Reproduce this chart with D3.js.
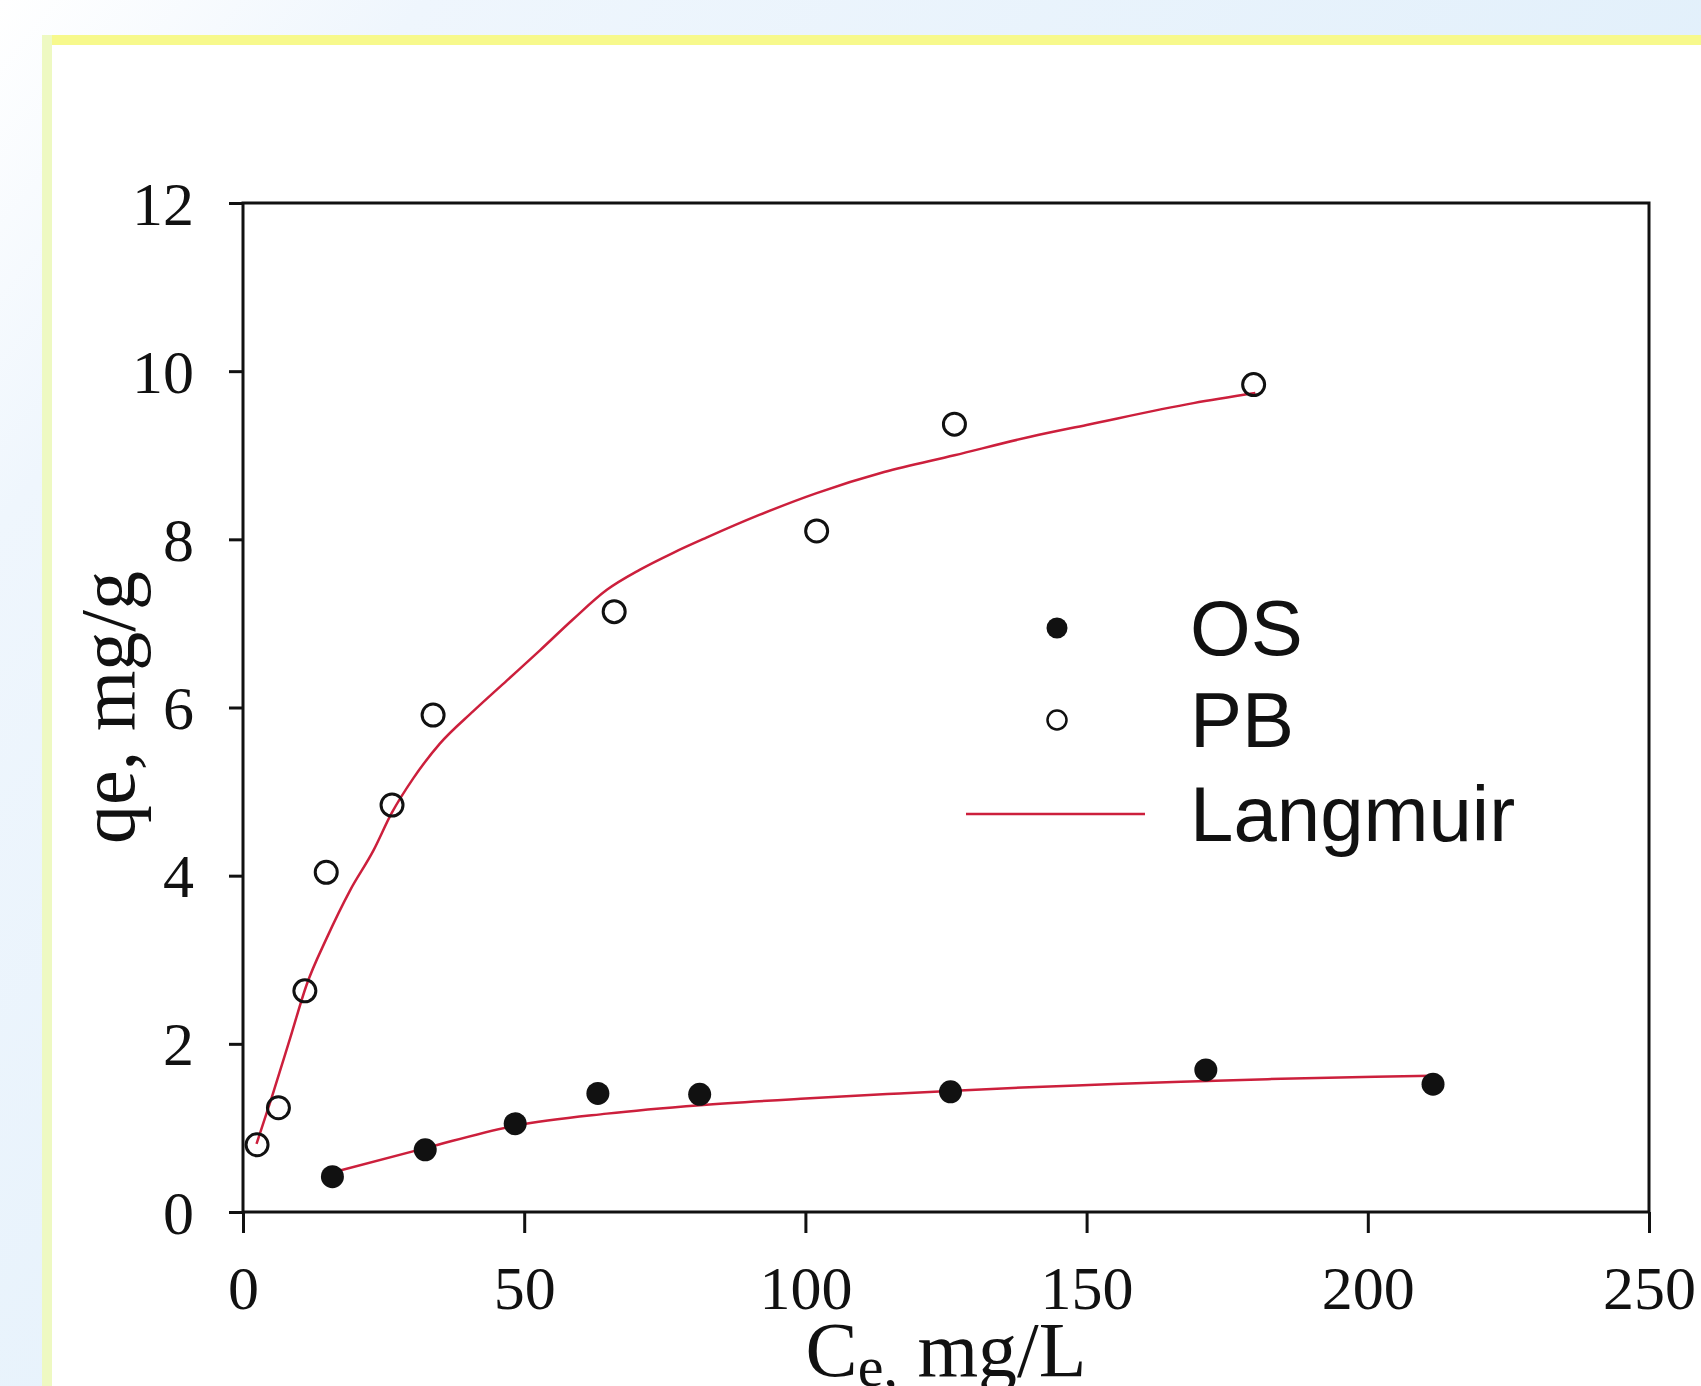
<!DOCTYPE html>
<html lang="en">
<head>
<meta charset="UTF-8">
<title>Langmuir isotherm - OS / PB</title>
<script src="https://d3js.org/d3.v7.min.js"></script>
<style>
  body { margin: 0; background: #fff; }
  svg { display: block; }
  .tick text { font-family: "Liberation Serif", "Times New Roman", serif; font-size: 62px; fill: #111; }
  .axis-title { font-family: "Liberation Serif", "Times New Roman", serif; font-size: 78px; fill: #111; }
  .legend text { font-family: "Liberation Sans", Arial, sans-serif; font-size: 78px; fill: #111; }
</style>
</head>
<body>
<svg id="chart" width="1701" height="1386"></svg>
<script>
// axis ticks
const xTicks = [0, 50, 100, 150, 200, 250];
const yTicks = [0, 2, 4, 6, 8, 10, 12];

// OS (filled circles)
const osC = [15.9, 32.4, 48.4, 63.1, 81.2, 125.8, 171.2, 211.6];
const osQ = [0.42, 0.74, 1.05, 1.41, 1.40, 1.43, 1.69, 1.52];

// PB (open circles)
const pbC = [2.5, 6.3, 11.0, 14.8, 26.5, 33.8, 66.0, 102.0, 126.5, 179.7];
const pbQ = [0.80, 1.24, 2.63, 4.04, 4.84, 5.91, 7.14, 8.10, 9.37, 9.84];

// Langmuir fitted lines
const pbFitC = [2.4, 5.1, 8.4, 11.3, 14.9, 19.0, 23.2, 26.4, 30.3, 35.0, 41.0, 46.9, 52.8, 58.7, 64.7, 70.6, 76.5, 82.4, 91.8, 102, 114, 126.5, 140, 150, 169, 180];
const pbFitQ = [0.81, 1.36, 2.07, 2.70, 3.26, 3.82, 4.30, 4.74, 5.16, 5.57, 5.96, 6.32, 6.68, 7.05, 7.40, 7.64, 7.84, 8.02, 8.29, 8.55, 8.80, 9.00, 9.22, 9.36, 9.62, 9.74];
const osFitC = [15.9, 32.4, 48.6, 64.7, 81.3, 100, 116.8, 125.6, 138.6, 150.4, 166.8, 182.2, 201.3, 211.3];
const osFitQ = [0.47, 0.76, 1.03, 1.17, 1.27, 1.35, 1.41, 1.44, 1.48, 1.51, 1.55, 1.58, 1.61, 1.62];

const legendNames = ["OS", "PB", "Langmuir"];

const W = 1701, H = 1386;
const svg = d3.select("#chart");

// slide background + yellow frame
const defs = svg.append("defs");
const bg = defs.append("linearGradient").attr("id", "bg")
  .attr("gradientUnits", "userSpaceOnUse")
  .attr("x1", 0).attr("y1", 0).attr("x2", W).attr("y2", H);
bg.append("stop").attr("offset", 0).attr("stop-color", "#ffffff");
bg.append("stop").attr("offset", 0.15).attr("stop-color", "#eff6fd");
bg.append("stop").attr("offset", 1).attr("stop-color", "#d8ebf9");
svg.append("rect").attr("width", W).attr("height", H).attr("fill", "url(#bg)");
svg.append("rect").attr("x", 47).attr("y", 40).attr("width", W).attr("height", H).attr("fill", "#fff");
svg.append("line").attr("x1", 42).attr("x2", W).attr("y1", 40).attr("y2", 40)
  .attr("stroke", "#f7f98c").attr("stroke-width", 10);
svg.append("line").attr("x1", 47).attr("x2", 47).attr("y1", 35).attr("y2", H)
  .attr("stroke", "#eef9c2").attr("stroke-width", 10);

// plot area
const pLeft = 243, pRight = 1649, pTop = 203, pBottom = 1212;
const x = d3.scaleLinear().domain([0, 250]).range([pLeft, pRight]);
const y = d3.scaleLinear().domain([0, 12]).range([pBottom, pTop]);

// frame
svg.append("rect").attr("x", pLeft).attr("y", pTop)
  .attr("width", pRight - pLeft).attr("height", pBottom - pTop)
  .attr("fill", "none").attr("stroke", "#111").attr("stroke-width", 3);

const xAxis = svg.append("g").attr("transform", `translate(0,${pBottom})`)
  .call(d3.axisBottom(x).tickValues(xTicks).tickSize(21).tickSizeOuter(0));
xAxis.selectAll("text").attr("y", 97).attr("dy", 0);

const yAxis = svg.append("g").attr("transform", `translate(${pLeft},0)`)
  .call(d3.axisLeft(y).tickValues(yTicks).tickSize(14).tickSizeOuter(0));
yAxis.selectAll("text").attr("x", -49).attr("dy", "0.34em");

svg.selectAll(".domain").attr("stroke", "none");
svg.selectAll(".tick line").attr("stroke", "#111").attr("stroke-width", 3);

// axis titles
const xt = svg.append("text").attr("class", "axis-title")
  .attr("x", (pLeft + pRight) / 2).attr("y", 1376).attr("text-anchor", "middle");
xt.append("tspan").text("C");
xt.append("tspan").attr("dy", 10).attr("font-size", 58).text("e,");
xt.append("tspan").attr("dy", -10).text(" mg/L");

svg.append("text").attr("class", "axis-title")
  .attr("transform", `translate(134,${(pTop + pBottom) / 2}) rotate(-90)`)
  .attr("text-anchor", "middle")
  .text("qe, mg/g");

// fitted lines
const line = d3.line().curve(d3.curveMonotoneX).x(d => x(d[0])).y(d => y(d[1]));
const fits = [d3.zip(pbFitC, pbFitQ), d3.zip(osFitC, osFitQ)];
svg.selectAll(".fit").data(fits).enter().append("path")
  .attr("class", "fit")
  .attr("d", line)
  .attr("fill", "none")
  .attr("stroke", "#cc1f3c")
  .attr("stroke-width", 2.5);

// points
svg.selectAll(".os").data(d3.zip(osC, osQ)).enter().append("circle")
  .attr("class", "os")
  .attr("cx", d => x(d[0])).attr("cy", d => y(d[1])).attr("r", 11.5)
  .attr("fill", "#111");

svg.selectAll(".pb").data(d3.zip(pbC, pbQ)).enter().append("circle")
  .attr("class", "pb")
  .attr("cx", d => x(d[0])).attr("cy", d => y(d[1])).attr("r", 11)
  .attr("fill", "none").attr("stroke", "#111").attr("stroke-width", 3);

// legend
const lg = svg.append("g").attr("class", "legend");
const rowY = [628, 720, 814];
lg.append("circle").attr("cx", 1057).attr("cy", rowY[0]).attr("r", 10.5).attr("fill", "#111");
lg.append("circle").attr("cx", 1057).attr("cy", rowY[1]).attr("r", 9.5)
  .attr("fill", "none").attr("stroke", "#111").attr("stroke-width", 2.5);
lg.append("line").attr("x1", 966).attr("x2", 1145).attr("y1", rowY[2]).attr("y2", rowY[2])
  .attr("stroke", "#cc1f3c").attr("stroke-width", 2.5);
lg.selectAll("text").data(legendNames).enter().append("text")
  .attr("x", 1190).attr("y", (d, i) => rowY[i] + 27)
  .text(d => d);
</script>
</body>
</html>
